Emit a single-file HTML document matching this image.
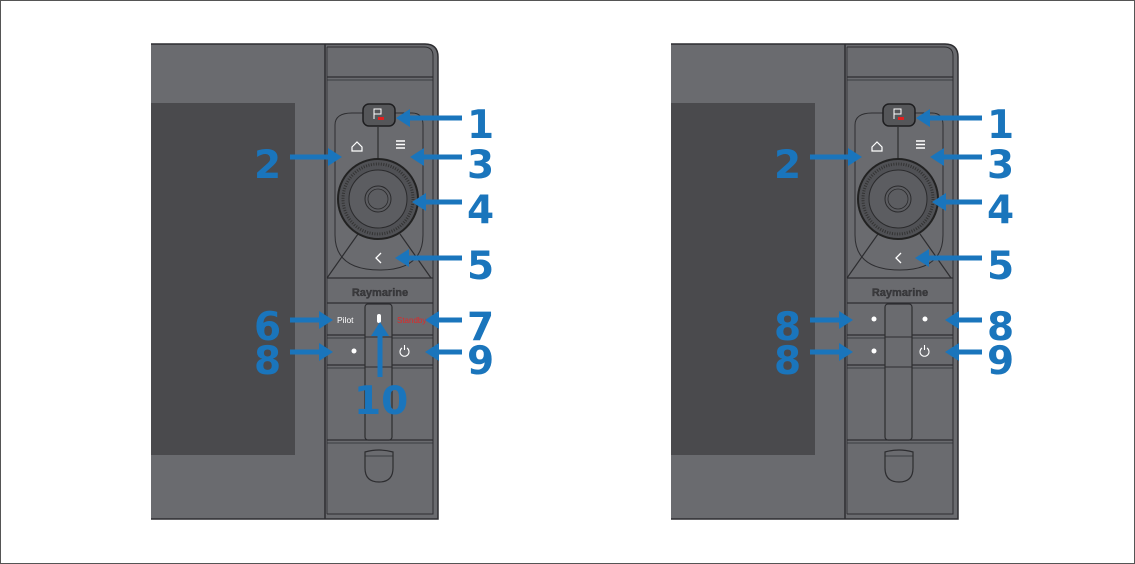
<!DOCTYPE html>
<html><head><meta charset="utf-8"><style>
html,body{margin:0;padding:0;background:#fff}
svg{display:block}
.n{font-family:"DejaVu Sans","Liberation Sans",sans-serif;font-weight:bold;font-size:39px;fill:#1a75bc}
</style></head><body>
<svg width="1135" height="564" viewBox="0 0 1135 564" xmlns="http://www.w3.org/2000/svg">
<rect x="0.5" y="0.5" width="1134" height="563" fill="#fff" stroke="#555"/>
<defs>
<g id="dev">
<path d="M151,44 L425,44 Q438,44 438,57 L438,519 L151,519 Z" fill="#6a6b6f"/>
<path d="M151,44 L425,44 Q438,44 438,57 L438,519 L151,519" fill="none" stroke="#2d2d30" stroke-width="1.5"/>
<path d="M327,47 L424,47 Q433,47 433,56 L433,514 L327,514" fill="none" stroke="#2d2d30" stroke-width="1"/>
<rect x="151" y="103" width="144" height="352" fill="#4a4a4d"/>
<line x1="325" y1="44" x2="325" y2="519" stroke="#2d2d30" stroke-width="1.5"/>
<line x1="327" y1="47" x2="327" y2="514" stroke="#2d2d30" stroke-width="0.8"/>
<line x1="327" y1="77" x2="433" y2="77" stroke="#2d2d30" stroke-width="1.2"/>
<line x1="327" y1="80" x2="433" y2="80" stroke="#2d2d30" stroke-width="0.8"/>
<path d="M352,113 L412,113 Q423,113 423,125 L423,235 Q423,270 380,270 Q335,270 335,235 L335,125 Q335,113 352,113 Z" fill="none" stroke="#2d2d30" stroke-width="1"/>
<line x1="378" y1="127" x2="378" y2="160" stroke="#2d2d30" stroke-width="1.2"/>
<line x1="327" y1="278" x2="358" y2="234" stroke="#2d2d30" stroke-width="1.2"/>
<line x1="431" y1="278" x2="400" y2="234" stroke="#2d2d30" stroke-width="1.2"/>
<line x1="327" y1="278" x2="433" y2="278" stroke="#2d2d30" stroke-width="1.2"/>
<circle cx="378" cy="199" r="40" fill="#505155" stroke="#222" stroke-width="2"/>
<circle cx="378" cy="199" r="35" fill="none" stroke="#333" stroke-width="3" stroke-dasharray="1 1.5"/>
<circle cx="378" cy="199" r="29" fill="#5c5d61" stroke="#2a2a2c" stroke-width="1"/>
<circle cx="378" cy="199" r="13" fill="#5c5d61" stroke="#2a2a2c" stroke-width="1"/>
<circle cx="378" cy="199" r="10" fill="none" stroke="#2a2a2c" stroke-width="0.8"/>
<rect x="363" y="104" width="32" height="22" rx="6" fill="#555659" stroke="#1e1e20" stroke-width="1.5"/>
<path d="M374,119 V109 H381 V114 H374" fill="none" stroke="#fff" stroke-width="1"/>
<rect x="378" y="117" width="6" height="3" fill="#e02020"/>
<path d="M352,147 L357,142 L362,147 V151 H352 Z" fill="none" stroke="#fff" stroke-width="1.2"/>
<path d="M396,141 H405 M396,144.5 H405 M396,148 H405" stroke="#fff" stroke-width="1.4"/>
<path d="M381,253 L376,258 L381,263" fill="none" stroke="#fff" stroke-width="1.3"/>
<text x="380" y="296" text-anchor="middle" font-family="Liberation Sans,sans-serif" font-size="11" font-weight="bold" fill="#3a3a3d" stroke="#2a2a2c" stroke-width="0.3">Raymarine</text>
<line x1="327" y1="303" x2="433" y2="303" stroke="#2d2d30" stroke-width="1.2"/>
<line x1="327" y1="335" x2="433" y2="335" stroke="#2d2d30" stroke-width="1.2"/>
<line x1="327" y1="338" x2="433" y2="338" stroke="#2d2d30" stroke-width="0.8"/>
<line x1="327" y1="365" x2="433" y2="365" stroke="#2d2d30" stroke-width="1.2"/>
<line x1="327" y1="368" x2="433" y2="368" stroke="#2d2d30" stroke-width="0.8"/>
<line x1="327" y1="440" x2="433" y2="440" stroke="#2d2d30" stroke-width="1.2"/>
<line x1="327" y1="443" x2="433" y2="443" stroke="#2d2d30" stroke-width="0.8"/>
<rect x="365" y="304" width="27" height="136" rx="3" fill="#6a6b6f" stroke="#2d2d30" stroke-width="1.2"/>
<line x1="365" y1="337" x2="392" y2="337" stroke="#2d2d30" stroke-width="1"/>
<line x1="365" y1="367" x2="392" y2="367" stroke="#2d2d30" stroke-width="1"/>
<path d="M365,452 Q379,448 393,452 L393,468 Q393,482 379,482 Q365,482 365,468 Z" fill="none" stroke="#2d2d30" stroke-width="1.2"/>
<line x1="365" y1="456" x2="393" y2="456" stroke="#2d2d30" stroke-width="0.8"/>
<circle cx="354" cy="351" r="2.5" fill="#fff"/>
<path d="M402,348 A4.5,4.5 0 1 0 407,348 M404.5,345 V350" fill="none" stroke="#fff" stroke-width="1.1"/>
</g>
</defs>

<use href="#dev"/>
<text x="337" y="323" font-family="Liberation Sans,sans-serif" font-size="8.5" fill="#fff">Pilot</text>
<rect x="377" y="314" width="4" height="9" rx="2" fill="#fff"/>
<text x="397" y="323" font-family="Liberation Sans,sans-serif" font-size="8" fill="#e02828">Standby</text>
<g stroke="#1a75bc" stroke-width="5" fill="none">
<line x1="462" y1="118" x2="408" y2="118"/>
<line x1="290" y1="157" x2="330" y2="157"/>
<line x1="462" y1="157" x2="422" y2="157"/>
<line x1="462" y1="202" x2="424" y2="202"/>
<line x1="462" y1="258" x2="407" y2="258"/>
<line x1="290" y1="320" x2="322" y2="320"/>
<line x1="462" y1="320" x2="437" y2="320"/>
<line x1="290" y1="352" x2="322" y2="352"/>
<line x1="462" y1="352" x2="437" y2="352"/>
<line x1="380" y1="377" x2="380" y2="334"/>
</g>
<g fill="#1a75bc">
<path d="M396,118 L410,109 L410,127 Z"/>
<path d="M342,157 L328,148 L328,166 Z"/>
<path d="M410,157 L424,148 L424,166 Z"/>
<path d="M412,202 L426,193 L426,211 Z"/>
<path d="M395,258 L409,249 L409,267 Z"/>
<path d="M333,320 L319,311 L319,329 Z"/>
<path d="M425,320 L439,311 L439,329 Z"/>
<path d="M333,352 L319,343 L319,361 Z"/>
<path d="M425,352 L439,343 L439,361 Z"/>
<path d="M380,322 L371,336 L389,336 Z"/>
</g>
<text class="n" x="467" y="138">1</text>
<text class="n" x="254" y="178">2</text>
<text class="n" x="467" y="178">3</text>
<text class="n" x="467" y="223">4</text>
<text class="n" x="467" y="279">5</text>
<text class="n" x="254" y="340">6</text>
<text class="n" x="467" y="340">7</text>
<text class="n" x="254" y="374">8</text>
<text class="n" x="467" y="374">9</text>
<text class="n" x="354" y="414">10</text>

<use href="#dev" x="520"/>
<circle cx="925" cy="319" r="2.5" fill="#fff"/>
<circle cx="874" cy="319" r="2.5" fill="#fff"/>
<g stroke="#1a75bc" stroke-width="5" fill="none">
<line x1="982" y1="118" x2="928" y2="118"/>
<line x1="810" y1="157" x2="850" y2="157"/>
<line x1="982" y1="157" x2="942" y2="157"/>
<line x1="982" y1="202" x2="944" y2="202"/>
<line x1="982" y1="258" x2="927" y2="258"/>
<line x1="810" y1="320" x2="842" y2="320"/>
<line x1="982" y1="320" x2="957" y2="320"/>
<line x1="810" y1="352" x2="842" y2="352"/>
<line x1="982" y1="352" x2="957" y2="352"/>
</g>
<g fill="#1a75bc">
<path d="M916,118 L930,109 L930,127 Z"/>
<path d="M862,157 L848,148 L848,166 Z"/>
<path d="M930,157 L944,148 L944,166 Z"/>
<path d="M932,202 L946,193 L946,211 Z"/>
<path d="M915,258 L929,249 L929,267 Z"/>
<path d="M853,320 L839,311 L839,329 Z"/>
<path d="M945,320 L959,311 L959,329 Z"/>
<path d="M853,352 L839,343 L839,361 Z"/>
<path d="M945,352 L959,343 L959,361 Z"/>
</g>
<text class="n" x="987" y="138">1</text>
<text class="n" x="774" y="178">2</text>
<text class="n" x="987" y="178">3</text>
<text class="n" x="987" y="223">4</text>
<text class="n" x="987" y="279">5</text>
<text class="n" x="774" y="340">8</text>
<text class="n" x="987" y="340">8</text>
<text class="n" x="774" y="374">8</text>
<text class="n" x="987" y="374">9</text>
</svg>
</body></html>
